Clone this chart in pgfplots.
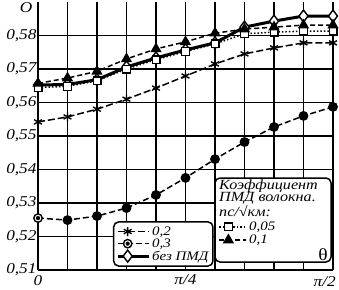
\documentclass[border=0pt]{standalone}
\usepackage{fontspec}
\setmainfont{Liberation Serif}[FakeStretch=1.15]
\usepackage{pgfplots}
\pgfplotsset{compat=1.18}
\pgfdeclareplotmark{odot}{%
  \pgfpathcircle{\pgfpointorigin}{\pgfplotmarksize}%
  \pgfusepathqfillstroke
  \pgfpathcircle{\pgfpointorigin}{0.5\pgfplotmarksize}%
  \pgfsetfillcolor{black}\pgfusepathqfill}
\begin{document}
\begin{tikzpicture}
\useasboundingbox (-38pt,-19pt) rectangle (301pt,270pt);
\begin{axis}[at={(0pt,0pt)}, anchor=south west, scale only axis,
  width=295pt, height=268pt,
  xmin=0, xmax=10, ymin=0.51, ymax=0.59,
  axis x line*=bottom, axis y line*=left,
  axis line style={line width=2.8pt, -},
  xtick={0,1,2,3,4,5,6,7,8,9,10},
  xticklabels={0,,,,,π/4,,,,,},
  ytick={0.51,0.52,0.53,0.54,0.55,0.56,0.57,0.58},
  yticklabels={{0,51},{0,52},{0,53},{0,54},{0,55},{0,56},{0,57},{0,58}},
  grid=major, grid style={black, line width=1.6pt},
  major tick length=0pt,
  tick label style={font=\itshape\fontsize{15}{15}\selectfont},
  yticklabel style={xshift=2pt},
  xticklabel style={yshift=-1.5pt},
  legend image code/.code={\draw[mark repeat=2,mark phase=2,#1] plot coordinates {(0pt,0pt) (10pt,0pt) (31pt,0pt)};},
  legend style={at={(axis description cs:0.254,0.012)}, anchor=south west,
    draw=black, line width=1.5pt, rounded corners=5pt, fill=white,
    font=\itshape\fontsize{13}{13}\selectfont, row sep=-2pt, inner sep=2.5pt,
    cells={anchor=west}},
  legend cell align=left,
  clip=false]
\addplot[black, line width=1.5pt, dash pattern=on 7pt off 3pt, mark=asterisk, mark size=4.5pt, mark options={solid, line width=1.4pt}]
  coordinates {(0,0.5542) (1,0.5557) (2,0.5580) (3,0.5610) (4,0.5643) (5,0.5679) (6,0.5715) (7,0.5745) (8,0.5763) (9,0.5778) (10,0.5778)};
\addlegendentry{0,2}
\addplot[black, line width=1.5pt, dash pattern=on 6pt off 3pt, mark=odot, mark size=4.2pt, mark options={solid, fill=white, line width=1.4pt}]
  coordinates {(0,0.5255) (1,0.5249) (2,0.5261) (3,0.5285) (4,0.5324) (5,0.5375) (6,0.5431) (7,0.5482) (8,0.5527) (9,0.5560) (10,0.5587)};
\addlegendentry{0,3}
\addplot[black, line width=3pt, mark=diamond*, mark size=6pt, mark options={solid, fill=white, line width=1.4pt}]
  coordinates {(0,0.5652) (1,0.5654) (2,0.5668) (3,0.5706) (4,0.5733) (5,0.5757) (6,0.5778) (7,0.5825) (8,0.5843) (9,0.5858) (10,0.5858)};
\addlegendentry{без ПМД}
\addplot[forget plot, black, line width=1.5pt, dash pattern=on 1.5pt off 2pt, mark=square*, mark size=3.8pt, mark options={solid, fill=white, line width=1.4pt}]
  coordinates {(0,0.5645) (1,0.5648) (2,0.5665) (3,0.5700) (4,0.5728) (5,0.5752) (6,0.5775) (7,0.5805) (8,0.5810) (9,0.5813) (10,0.5813)};
\addplot[forget plot, black, line width=1.5pt, dash pattern=on 5pt off 3pt, mark=triangle*, mark size=5pt, mark options={solid, fill=black}]
  coordinates {(0,0.5657) (1,0.5673) (2,0.5693) (3,0.5730) (4,0.5760) (5,0.5781) (6,0.5807) (7,0.5819) (8,0.5825) (9,0.5831) (10,0.5831)};
\node[anchor=north east, font=\itshape\fontsize{15}{15}\selectfont, inner sep=0pt] at ([yshift=-6pt, xshift=3pt]axis cs:10,0.51) {π/2};
\end{axis}
\node[font=\itshape\fontsize{15}{15}\selectfont] at (-12pt,262pt) {O};
\draw[line width=1.5pt, rounded corners=5pt, fill=white] (177pt,8pt) rectangle (293pt,92pt);
\node[anchor=north west, align=left, inner sep=0pt, font=\itshape\fontsize{14}{12.5}\selectfont] at (181pt,90.5pt) {Коэффициент\\ПМД волокна.\\пс/√км:};
\node[font=\fontsize{17}{17}\selectfont, inner sep=0pt] at (285pt,15pt) {θ};
\begin{axis}[at={(0pt,0pt)}, anchor=south west, scale only axis,
  width=295pt, height=268pt, hide axis,
  xmin=0, xmax=10, ymin=0.51, ymax=0.59,
  legend image code/.code={\draw[mark repeat=2,mark phase=2,#1] plot coordinates {(0pt,0pt) (9pt,0pt) (27pt,0pt)};},
  legend style={at={(axis description cs:0.61,0.19)}, anchor=north west,
    draw=none, fill=none,
    font=\itshape\fontsize{13}{13}\selectfont, row sep=-1pt, inner sep=0.5pt,
    cells={anchor=west}},
  legend cell align=left]
\addplot[forget plot, draw=none] coordinates {(0,0.52)};
\addlegendimage{black, line width=1.5pt, dash pattern=on 1.5pt off 2pt, mark=square*, mark size=3.8pt, mark options={solid, fill=white, line width=1.4pt}}
\addlegendentry{0,05}
\addlegendimage{black, line width=1.5pt, dash pattern=on 5pt off 3pt, mark=triangle*, mark size=5pt, mark options={solid, fill=black}}
\addlegendentry{0,1}
\end{axis}
\end{tikzpicture}
\end{document}
